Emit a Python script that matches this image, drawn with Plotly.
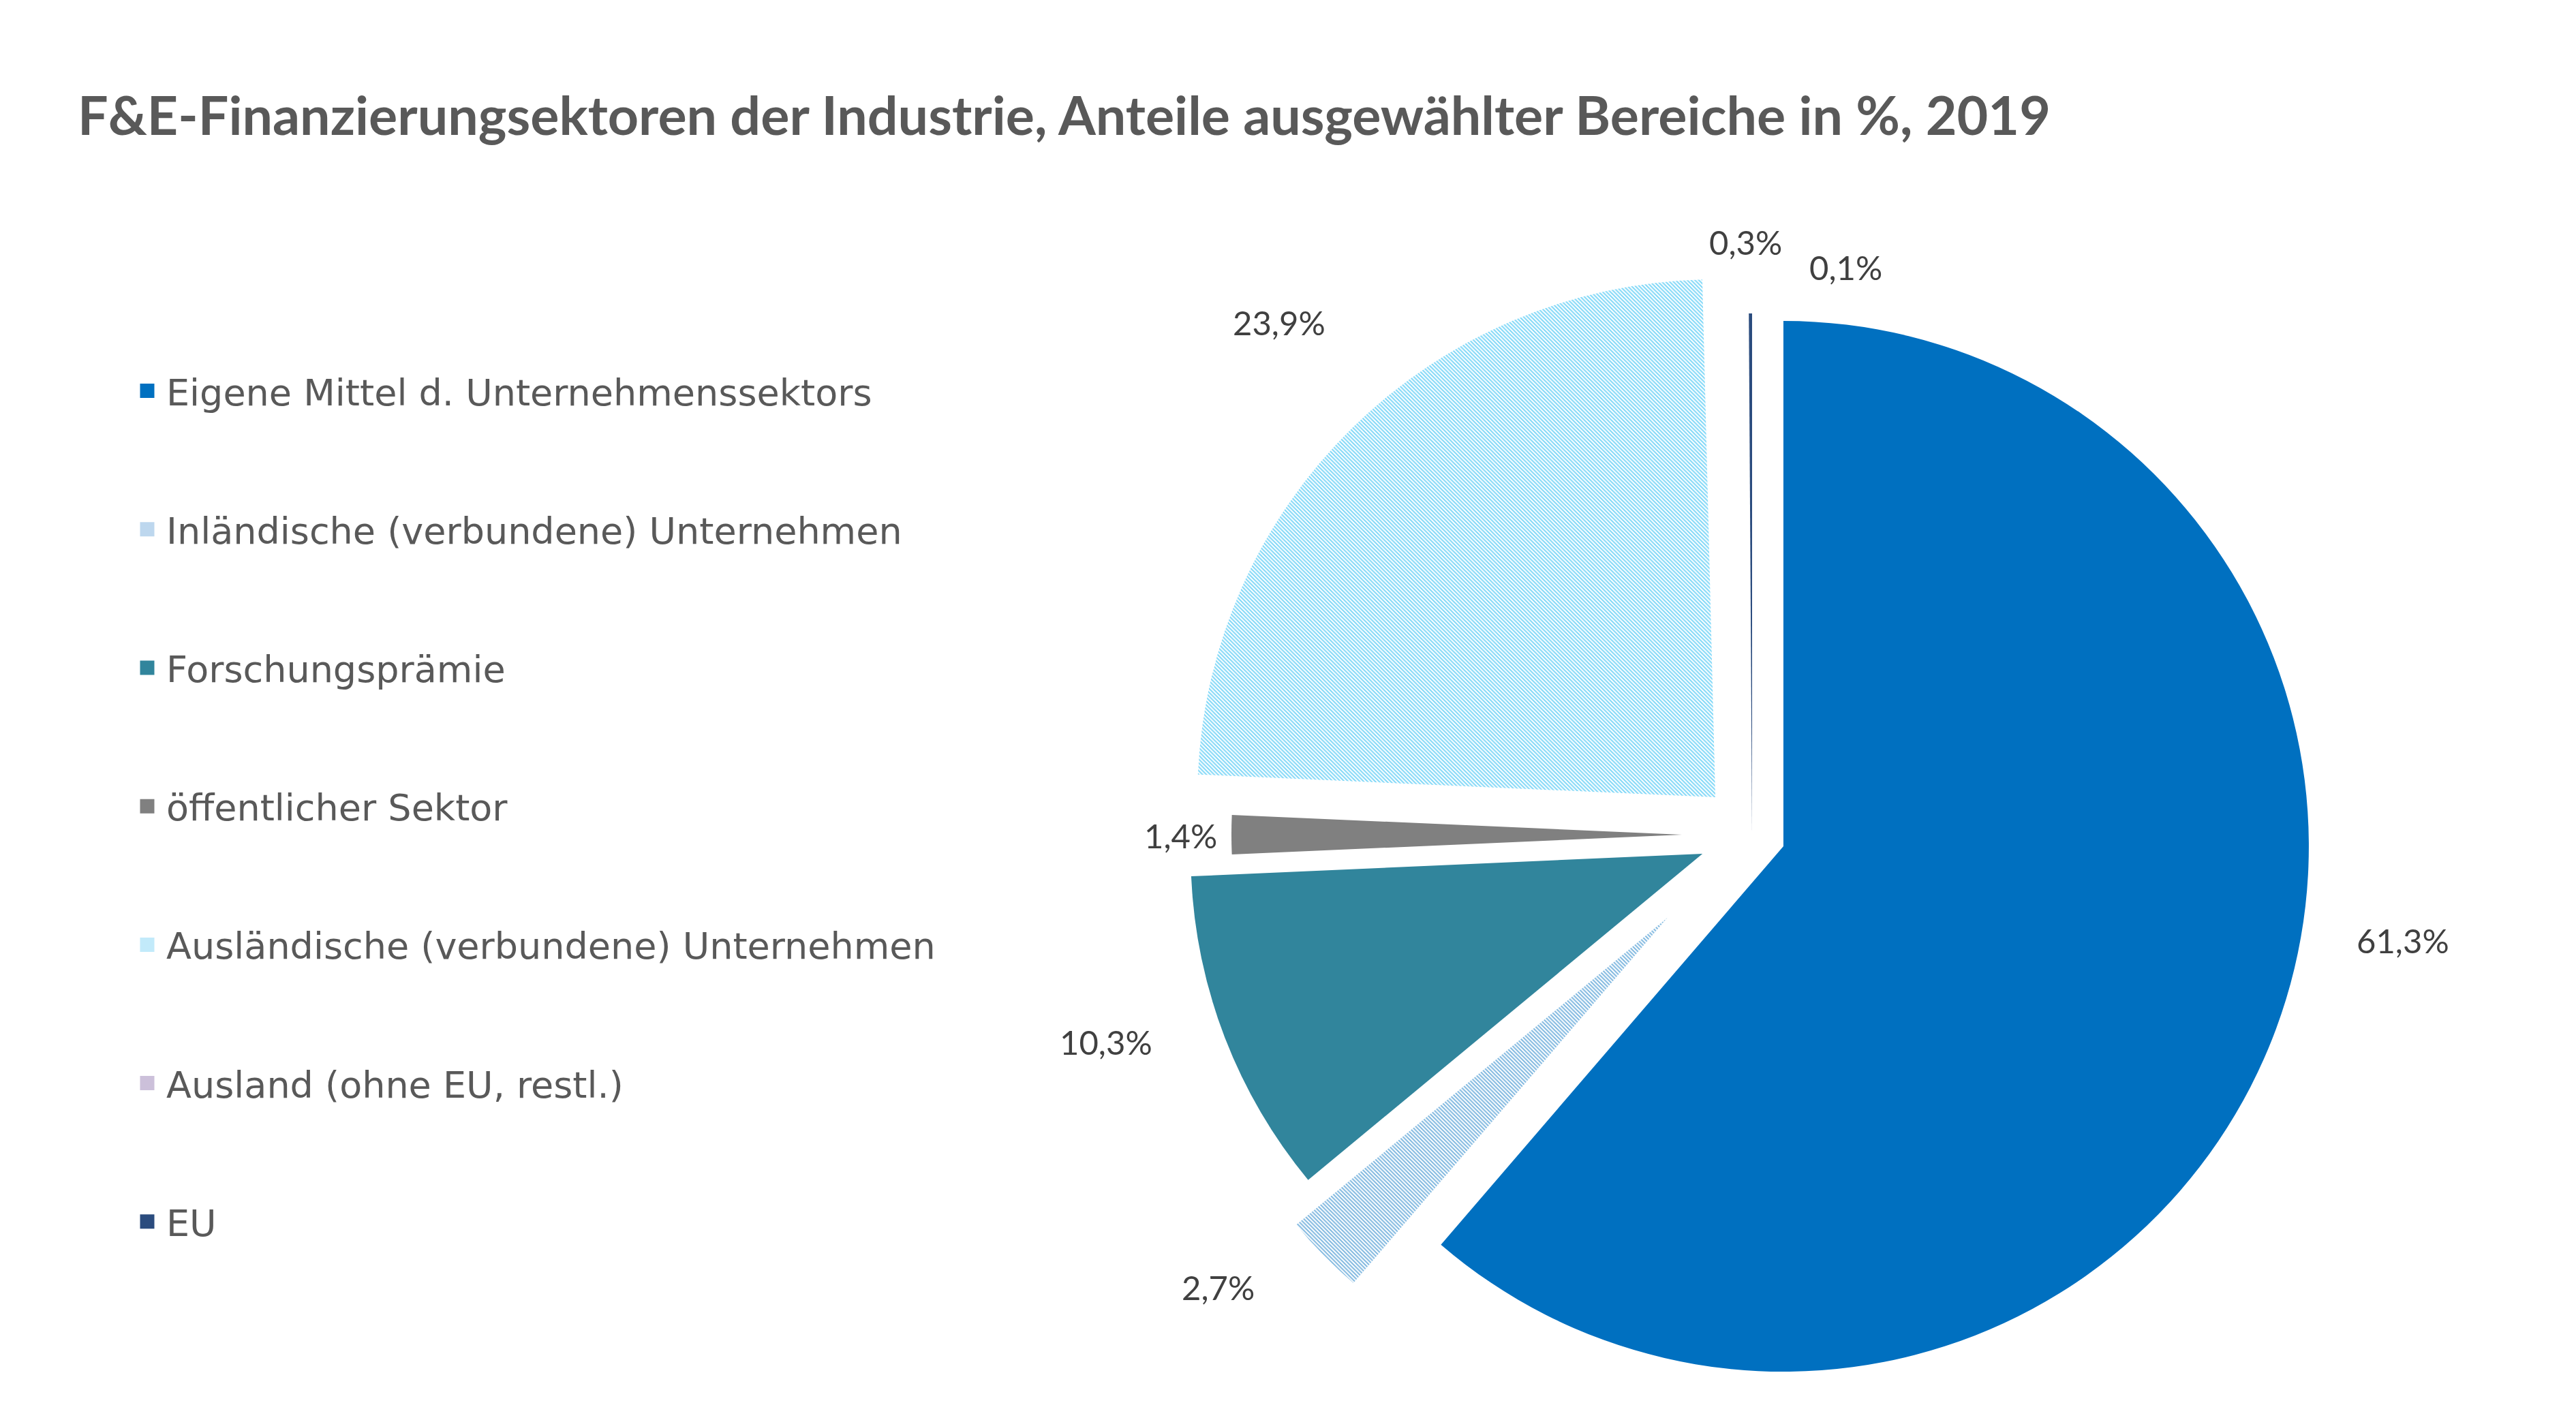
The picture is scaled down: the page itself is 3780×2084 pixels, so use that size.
import math
import plotly.graph_objects as go

# ---------------- data ----------------
categories = [
    "Eigene Mittel d. Unternehmenssektors",
    "Inländische (verbundene) Unternehmen",
    "Forschungsprämie",
    "öffentlicher Sektor",
    "Ausländische (verbundene) Unternehmen",
    "Ausland (ohne EU, restl.)",
    "EU",
]
shares = [61.3, 2.7, 10.3, 1.4, 23.9, 0.3, 0.1]
title_text = "F&E-Finanzierungsektoren der Industrie, Anteile ausgewählter Bereiche in %, 2019"

# ---------------- styles / layout ----------------
W, H = 3780, 2084
CX, CY = 2563, 1217  # pie centre in pixels (from top-left)
slice_colors = ["#0070C0", "#0070C0", "#31859C", "#808080", "#00B0F0", "rgba(0,0,0,0)", "#2B4C7E"]
slice_patterns = ["", "\\", "", "", "\\", "", ""]
pattern_size = [4, 4, 4, 4, 4, 4, 4]
pattern_solidity = [0.5, 0.5, 0.5, 0.5, 0.5, 0.5, 0.5]
legend_colors = ["#0070C0", "#BDD7EE", "#31859C", "#808080", "#C2EAFA", "#CCC0DA", "#2B4C7E"]
explode_px = [49, 174, 78, 103, 77, 60, 5]
radius_px = [771, 707, 751, 661, 760, 760, 760]
label_xy = [(3518, 1372), (1779, 1881), (1615, 1521), (1724, 1218),
            (1869, 465), (2553, 347), (2700, 384)]

total = sum(shares)


def fmt(v):
    return f"{v:.1f}".replace(".", ",") + "%"


fig = go.Figure()

cum = 0.0
for i, (cat, v) in enumerate(zip(categories, shares)):
    start = cum / total * 360.0
    mid = (cum + v / 2.0) / total * 360.0
    cum += v
    a = math.radians(mid)
    vx = CX + explode_px[i] * math.sin(a)
    vy = CY - explode_px[i] * math.cos(a)
    r = radius_px[i]
    dom_x = [(vx - r) / W, (vx + r) / W]
    dom_y = [1 - (vy + r) / H, 1 - (vy - r) / H]
    marker = dict(colors=[slice_colors[i], "rgba(0,0,0,0)"], line=dict(width=0))
    if slice_patterns[i]:
        marker["pattern"] = dict(shape=[slice_patterns[i], ""], fgcolor=slice_colors[i],
                                 bgcolor="white", size=pattern_size[i],
                                 solidity=pattern_solidity[i], fillmode="overlay")
        marker["colors"] = ["white", "rgba(0,0,0,0)"]
    fig.add_trace(go.Pie(
        values=[v, total - v],
        labels=[cat, f"_rest{i}"],
        sort=False,
        direction="clockwise",
        rotation=start,
        domain=dict(x=dom_x, y=dom_y),
        marker=marker,
        textinfo="none",
        hoverinfo="label+percent",
        showlegend=False,
    ))

# legend entries
for i, cat in enumerate(categories):
    fig.add_trace(go.Scatter(
        x=[None], y=[None], mode="markers", name=cat, legendgroup=f"g{i}",
        marker=dict(symbol="square", size=16, color=legend_colors[i],
                    line=dict(width=5, color=legend_colors[i])),
        hoverinfo="skip",
    ))

# value labels
for i, v in enumerate(shares):
    x, y = label_xy[i]
    fig.add_annotation(
        x=x / W, y=1 - y / H, xref="paper", yref="paper", text=fmt(v),
        showarrow=False, xanchor="center", yanchor="middle",
        font=dict(family="Lato", size=49, color="#404040"),
    )

fig.update_layout(
    width=W, height=H,
    margin=dict(l=0, r=0, t=0, b=0),
    paper_bgcolor="white", plot_bgcolor="white",
    title=dict(text=f"<b>{title_text}</b>", x=106 / W, xanchor="left",
               y=1 - 162 / H, yanchor="middle",
               font=dict(family="Lato", size=79, color="#595959")),
    xaxis=dict(visible=False), yaxis=dict(visible=False),
    showlegend=True,
    legend=dict(x=180 / W, y=1 - 524 / H, xanchor="left", yanchor="top",
                font=dict(family="DejaVu Sans", size=54, color="#595959"),
                itemwidth=46,
                tracegroupgap=130, bgcolor="rgba(0,0,0,0)", traceorder="grouped"),
)

fig.write_html("out.html")
